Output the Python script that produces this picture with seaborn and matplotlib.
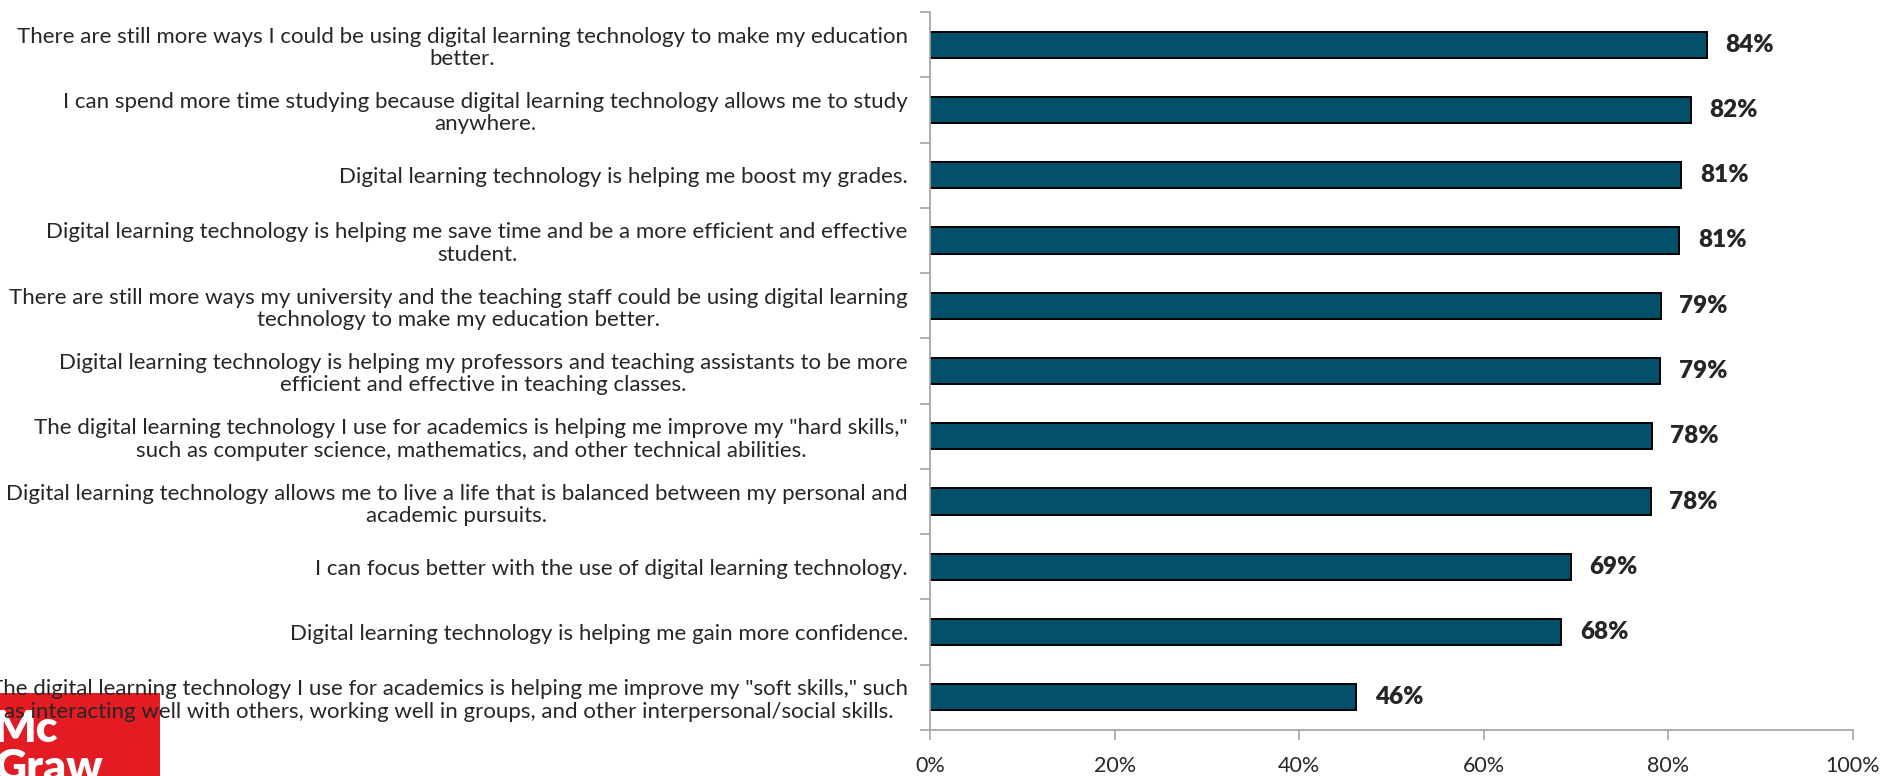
import pandas as pd
import matplotlib.pyplot as plt
import seaborn as sns
from matplotlib.patches import Rectangle

# Survey statements and share agreeing
statements = [
    "There are still more ways I could be using digital learning technology to make my education\nbetter.",
    "I can spend more time studying because digital learning technology allows me to study\nanywhere.",
    "Digital learning technology is helping me boost my grades.",
    "Digital learning technology is helping me save time and be a more efficient and effective\nstudent.",
    "There are still more ways my university and the teaching staff could be using digital learning\ntechnology to make my education better.",
    "Digital learning technology is helping my professors and teaching assistants to be more\nefficient and effective in teaching classes.",
    'The digital learning technology I use for academics is helping me improve my "hard skills,"\nsuch as computer science, mathematics, and other technical abilities.',
    "Digital learning technology allows me to live a life that is balanced between my personal and\nacademic pursuits.",
    "I can focus better with the use of digital learning technology.",
    "Digital learning technology is helping me gain more confidence.",
    'The digital learning technology I use for academics is helping me improve my "soft skills," such\nas interacting well with others, working well in groups, and other interpersonal/social skills.',
]
values = [84.2, 82.4, 81.4, 81.2, 79.2, 79.1, 78.2, 78.1, 69.4, 68.4, 46.2]
value_labels = ["84%", "82%", "81%", "81%", "79%", "79%", "78%", "78%", "69%", "68%", "46%"]
x_ticks = [0, 20, 40, 60, 80, 100]

df = pd.DataFrame({"statement": statements, "value": values})

sns.set_style("white")
plt.rcParams["font.family"] = ["Lato", "DejaVu Sans"]

fig = plt.figure(figsize=(18.87, 7.76), dpi=100)
ax = fig.add_axes([930 / 1887, 1 - 730 / 776, (1853 - 930) / 1887, (730 - 12) / 776])

sns.barplot(data=df, x="value", y="statement", orient="h", color="#03506A",
            width=0.4, edgecolor="black", linewidth=1.4, saturation=1, ax=ax)

for i, (v, lab) in enumerate(zip(values, value_labels)):
    ax.text(v + 2.0, i, lab, va="center", ha="left", fontsize=17.5, fontweight="heavy")

ax.set_xlim(0, 100)
ax.set_ylim(len(values) - 0.5, -0.5)
ax.set_xticks(x_ticks)
ax.set_xticklabels([f"{t}%" for t in x_ticks], fontsize=15.5)
ax.set_yticks([i - 0.5 for i in range(len(values) + 1)], minor=False)
ax.set_yticklabels([])
ax.set_yticks(range(len(values)), minor=True)
ax.set_yticklabels(statements, minor=True, fontsize=16, multialignment="center", linespacing=1.15)
ax.tick_params(axis="y", which="minor", length=0, pad=16)
ax.tick_params(axis="y", which="major", length=7, color="#A6A6A6", width=1.2, direction="out", left=True)
ax.tick_params(axis="x", length=7, color="#A6A6A6", width=1.2, direction="out", bottom=True, pad=12)
ax.set_xlabel("")
ax.set_ylabel("")

for side in ["top", "right"]:
    ax.spines[side].set_visible(False)
for side in ["left", "bottom"]:
    ax.spines[side].set_color("#A6A6A6")
    ax.spines[side].set_linewidth(1.3)

# McGraw logo in the lower left corner
fig.patches.append(Rectangle((0, 0), 160 / 1887, 83 / 776, transform=fig.transFigure,
                             facecolor="#E31B23", edgecolor="none", zorder=-2))
fig.text(-0.003, 0.044, "Mc", color="white", fontsize=32, fontweight="heavy", va="baseline", zorder=-1)
fig.text(-0.003, -0.006, "Graw", color="white", fontsize=32, fontweight="heavy", va="baseline", zorder=-1)

fig.savefig("out.png", dpi=100)
